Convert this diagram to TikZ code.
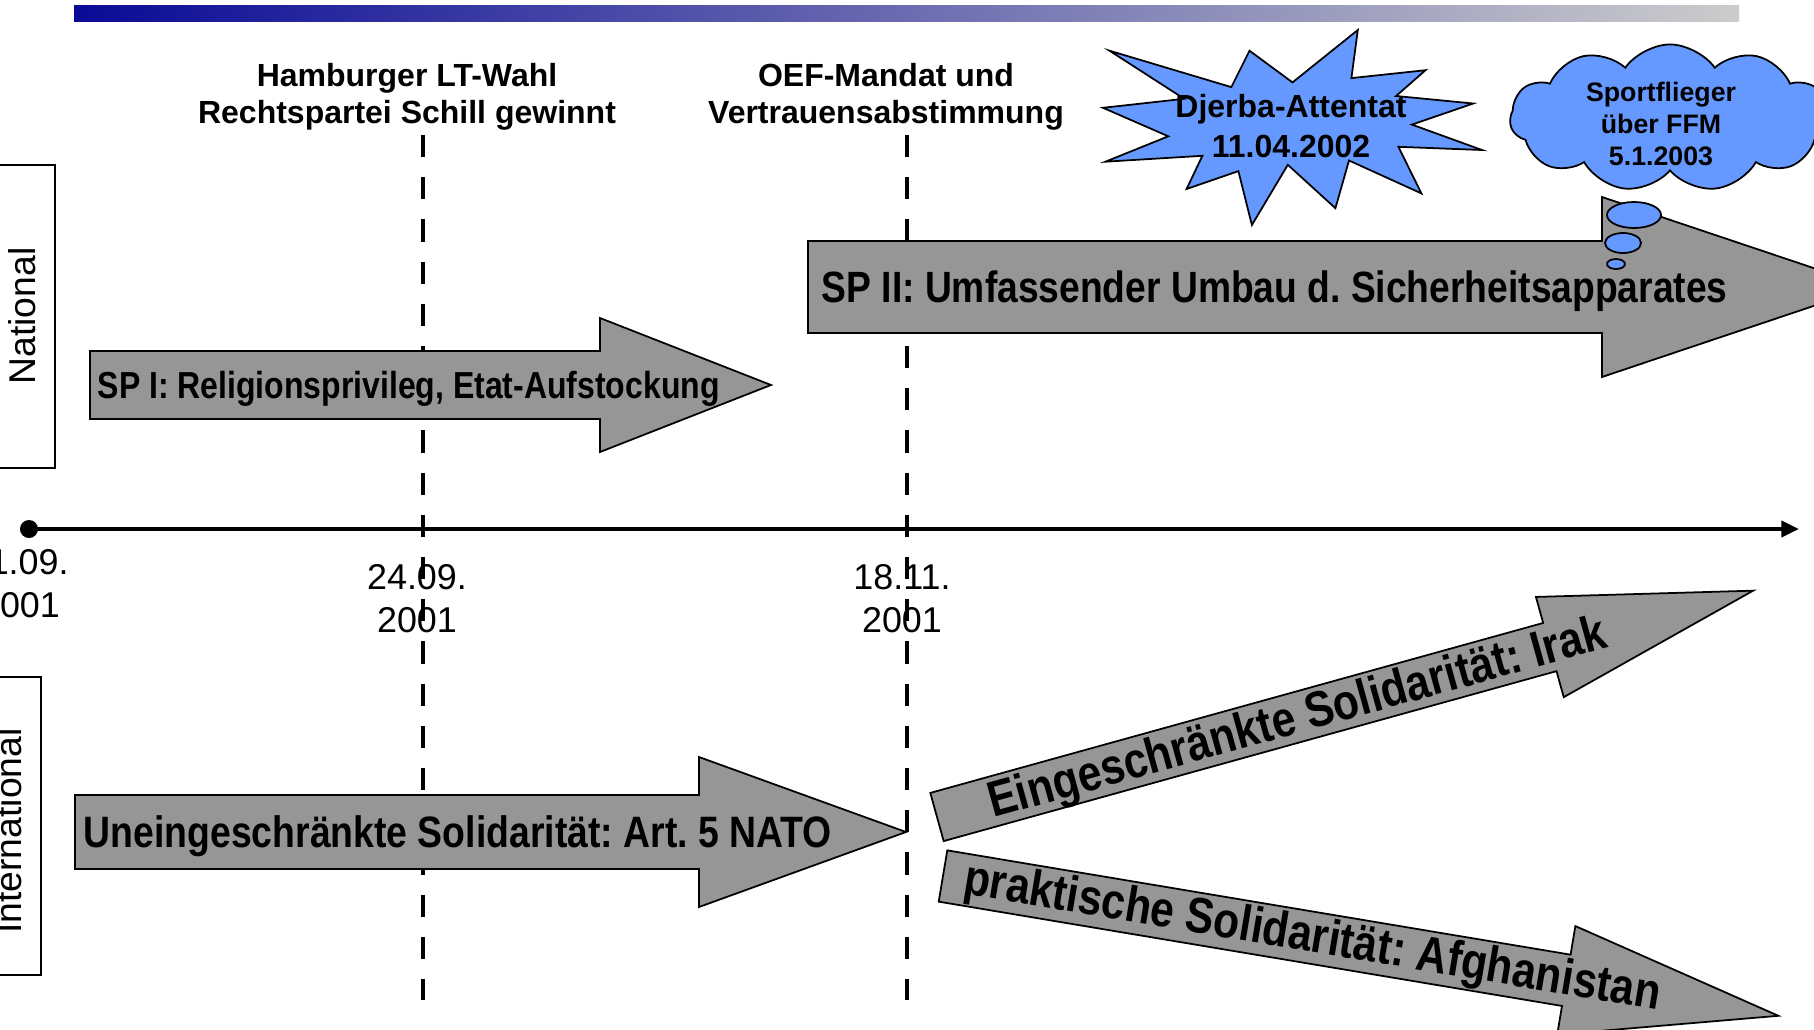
\documentclass[tikz,border=0pt]{standalone}
\usepackage{fontspec}
\setmainfont{Liberation Sans}
\newfontfamily\narrowsans{Liberation Sans}[FakeStretch=0.85]
\frenchspacing
\usetikzlibrary{arrows.meta,shapes.symbols,shapes.geometric}
\definecolor{arrowgray}{RGB}{150,150,150}
\definecolor{burstblue}{RGB}{102,153,255}
\definecolor{bardark}{RGB}{10,10,150}
\definecolor{barlight}{RGB}{204,204,204}
\tikzset{
  px/.style={x=0.01cm,y=-0.01cm},
  arrowbody/.style={fill=arrowgray,draw=black,line width=0.5pt,line join=miter},
  pics/fatarrow/.style n args={4}{code={
    \filldraw[arrowbody] (0,-#2) -- ({#1-#4},-#2) -- ({#1-#4},-#3) -- (#1,0)
      -- ({#1-#4},#3) -- ({#1-#4},#2) -- (0,#2) -- cycle;}},
  sidebox/.style={draw=black,line width=0.5pt},
  sidelabel/.style={rotate=90,inner sep=0pt,font=\fontsize{10.6}{12.6}\selectfont},
  datelabel/.style={align=center,inner sep=0pt,font=\fontsize{10.2}{12.2}\selectfont},
  eventlabel/.style={align=center,inner sep=0pt,font=\bfseries\fontsize{9.1}{10.5}\selectfont},
  timeline/.style={line width=1.4pt,-{Triangle[length=5pt,width=4.5pt]}},
  startdot/.style={circle,fill=black,inner sep=0pt,minimum size=0.18cm},
  eventline/.style={line width=1.3pt,dash pattern=on 6.3pt off 5.7pt},
  arrowtext/.style={inner sep=0pt,font=\narrowsans\bfseries\fontsize{#1}{#1}\selectfont},
  burst/.style={fill=burstblue,draw=black,line width=0.5pt,line join=miter},
  bursttext/.style={align=center,inner sep=0pt,font=\bfseries\fontsize{9.1}{11.4}\selectfont},
  cloudtext/.style={align=center,inner sep=0pt,font=\bfseries\fontsize{7.6}{9.1}\selectfont},
  bubble/.style={ellipse,fill=burstblue,draw=black,line width=0.5pt,inner sep=0pt}
}
\begin{document}
\begin{tikzpicture}[px]
\useasboundingbox (0,0) rectangle (1814,1030);
\clip (0,0) rectangle (1814,1030);

% title bar
\shade[left color=bardark,right color=barlight] (74,5) rectangle (1739,21);

% side boxes
\draw[sidebox] (-10,165) rectangle (55,468);
\node[sidelabel] (national) at (22,316) {National};
\draw[sidebox] (-10,677) rectangle (41,975);
\node[sidelabel] (international) at (8,831) {International};

% event lines
\coordinate (ev1top) at (423,135);
\coordinate (ev1bot) at (423,1000);
\coordinate (ev2top) at (907,135);
\coordinate (ev2bot) at (907,1000);
\draw[eventline] (ev1top) -- (ev1bot);
\draw[eventline] (ev2top) -- (ev2bot);

% time axis
\node[startdot] (t0) at (29,529) {};
\coordinate (tend) at (1799,529);
\draw[timeline] (t0.center) -- (tend);

% dates
\node[datelabel] (d0) at (20,584) {11.09.\\2001};
\node[datelabel] (d1) at (417,599) {24.09.\\2001};
\node[datelabel] (d2) at (902,599) {18.11.\\2001};

% events above the axis
\node[eventlabel] (e1) at (407,97) {Hamburger LT-Wahl\\Rechtspartei Schill gewinnt};
\node[eventlabel] (e2) at (886,97) {OEF-Mandat und\\Vertrauensabstimmung};

% national phases
\pic at (90,385) {fatarrow={681}{34}{67}{171}};
\node[arrowtext=10.7,anchor=west] (sp1) at (97,389) {SP I: Religionsprivileg, Etat-Aufstockung};
\pic at (808,287) {fatarrow={1062}{46}{90}{268}};
\node[arrowtext=12.45,anchor=west] (sp2) at (821,291) {SP II: Umfassender Umbau d. Sicherheitsapparates};

% international phases
\pic at (75,832) {fatarrow={831}{37}{75}{207}};
\node[arrowtext=12.5,anchor=west] (intl1) at (83,836) {Uneingeschränkte Solidarität: Art. 5 NATO};
\pic[rotate=15.5] at (937,817) {fatarrow={847}{25}{52}{211}};
\node[arrowtext=14.25,rotate=15.5] (intl2) at (1298,720) {Eingeschränkte Solidarität: Irak};
\pic[rotate=-9.5] at (943,876) {fatarrow={847}{26}{55}{215}};
\node[arrowtext=14.25,rotate=-9.5] (intl3) at (1312,939) {praktische Solidarität: Afghanistan};

% explosion
\draw[burst] (1292.5,82.4) -- (1357.8,30) -- (1351.4,78.1) -- (1425.5,70.2)
  -- (1396.1,96.0) -- (1473.2,103.5) -- (1411.9,124.6) -- (1482,150)
  -- (1398.4,146.8) -- (1421.4,193.4) -- (1349,160.5) -- (1335.4,208.2)
  -- (1287.8,164.8) -- (1251.9,225) -- (1238.4,171.1) -- (1186.6,189)
  -- (1202.4,155.8) -- (1105.4,161.7) -- (1168.3,136.3) -- (1103,107.8)
  -- (1184.2,98.8) -- (1109.5,50.7) -- (1231.3,87.1) -- (1249.5,50.7) -- cycle;
\node[bursttext] (djerba) at (1291,126) {Djerba-Attentat\\11.04.2002};

% thought cloud
\node[cloud,cloud puffs=11,cloud puff arc=110,aspect=2.2,fill=burstblue,draw=black,
  line width=0.5pt,minimum width=3.2cm,minimum height=1.47cm,inner sep=0pt] (cloud) at (1670,118) {};
\node[cloudtext] (ffm) at (1661,124) {Sportflieger\\über FFM\\5.1.2003};
\node[bubble,minimum width=0.54cm,minimum height=0.26cm] (b1) at (1634,215) {};
\node[bubble,minimum width=0.36cm,minimum height=0.20cm] (b2) at (1623,243) {};
\node[bubble,minimum width=0.18cm,minimum height=0.10cm] (b3) at (1616,264) {};
\end{tikzpicture}
\end{document}
